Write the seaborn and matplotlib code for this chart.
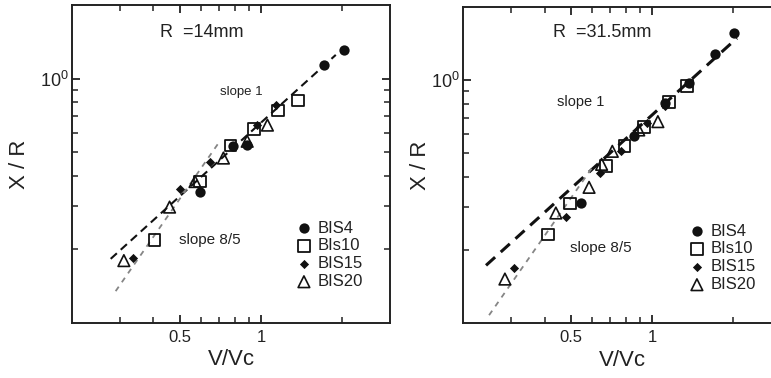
import matplotlib
matplotlib.use('Agg')
import matplotlib.pyplot as plt
import seaborn as sns
from matplotlib.ticker import NullFormatter

sns.set_style('ticks')
plt.rcParams['font.family'] = ['Liberation Sans', 'DejaVu Sans']
plt.rcParams['text.color'] = '#222222'

# R = 14mm panel
bis4_x_14 = [0.594, 0.789, 0.885, 1.712, 2.03]
bis4_y_14 = [0.342, 0.528, 0.533, 1.14, 1.315]
bis10_x_14 = [0.404, 0.594, 0.772, 0.942, 1.153, 1.373]
bis10_y_14 = [0.219, 0.379, 0.533, 0.622, 0.741, 0.814]
bis15_x_14 = [0.337, 0.500, 0.647, 0.970, 1.137]
bis15_y_14 = [0.184, 0.353, 0.454, 0.645, 0.779]
bis20_x_14 = [0.311, 0.459, 0.570, 0.726, 0.889, 1.056]
bis20_y_14 = [0.180, 0.298, 0.379, 0.473, 0.554, 0.645]
slope1_x_14 = [0.278, 1.89]
slope1_y_14 = [0.183, 1.25]
slope85_x_14 = [0.290, 0.699]
slope85_y_14 = [0.135, 0.548]

# R = 31.5mm panel
bis4_x_31 = [0.547, 0.855, 1.12, 1.367, 1.702, 2.013]
bis4_y_31 = [0.311, 0.588, 0.802, 0.972, 1.276, 1.556]
bis10_x_31 = [0.412, 0.497, 0.675, 0.790, 0.931, 1.152, 1.346]
bis10_y_31 = [0.232, 0.311, 0.443, 0.535, 0.642, 0.814, 0.945]
bis15_x_31 = [0.309, 0.481, 0.641, 0.768, 0.957, 1.12]
bis15_y_31 = [0.169, 0.274, 0.413, 0.510, 0.663, 0.778]
bis20_x_31 = [0.285, 0.440, 0.584, 0.650, 0.712, 0.892, 1.05]
bis20_y_31 = [0.152, 0.284, 0.362, 0.450, 0.509, 0.623, 0.674]
slope1_x_31 = [0.2426, 2.06]
slope1_y_31 = [0.173, 1.485]
slope85_x_31 = [0.249, 0.609]
slope85_y_31 = [0.108, 0.447]

series_names = ['BIS4', 'BIs10', 'BIS15', 'BIS20']
x_minor = [0.3, 0.4, 0.6, 0.7, 0.8, 0.9, 2]
y_minor = [0.2, 0.3, 0.4, 0.5, 0.6, 0.7, 0.8, 0.9]

ink = '#111111'


def draw_panel(ax, data, lines, title, black_lw, txt_pos, txt_sizes, leg_pos):
    s1x, s1y, s8x, s8y = lines
    sns.lineplot(x=s1x, y=s1y, ax=ax, color=ink, lw=black_lw, dashes=False)
    ax.lines[-1].set_dashes((4, 2.5))
    sns.lineplot(x=s8x, y=s8y, ax=ax, color='#858585', lw=1.3, dashes=False)
    ax.lines[-1].set_dashes((3, 3))

    styles = [
        dict(marker='o', s=55, color=ink, edgecolor=ink, linewidth=0),
        dict(marker='s', s=70, facecolor='none', edgecolor=ink, linewidth=1.3),
        dict(marker='D', s=22, color=ink, edgecolor=ink, linewidth=0),
        dict(marker='^', s=70, facecolor='none', edgecolor=ink, linewidth=1.2),
    ]
    for (xs, ys), name, st in zip(data, series_names, styles):
        sns.scatterplot(x=xs, y=ys, ax=ax, label=name, zorder=3, **st)

    ax.set_xscale('log')
    ax.set_yscale('log')
    ax.set_xlim(0.2, 3)
    ax.set_ylim(0.1, 2)
    ax.set_xticks([0.5, 1])
    ax.set_xticklabels(['0.5', '1'])
    ax.set_xticks(x_minor, minor=True)
    ax.xaxis.set_minor_formatter(NullFormatter())
    ax.set_yticks([1])
    ax.set_yticklabels([r'$\mathregular{10^0}$'])
    ax.set_yticks(y_minor, minor=True)
    ax.yaxis.set_minor_formatter(NullFormatter())
    ax.tick_params(which='both', direction='in', top=True, right=True,
                   bottom=True, left=True,
                   color='#222222', labelsize=12, labelcolor='#222222')
    ax.tick_params(which='major', length=6, width=1.3)
    ax.tick_params(which='minor', length=4, width=1.1)
    ax.tick_params(axis='x', pad=5)
    ax.tick_params(axis='y', pad=2.5, labelsize=13)
    for sp in ax.spines.values():
        sp.set_linewidth(1.4)
        sp.set_color('#222222')

    ax.set_xlabel('V/Vc', fontsize=16, color='#222222')
    ax.set_ylabel('X / R', fontsize=16, color='#222222')

    ax.text(txt_pos[0][0], txt_pos[0][1], title, transform=ax.transAxes,
            fontsize=13, ha='left', va='center')
    ax.text(txt_pos[1][0], txt_pos[1][1], 'slope 1', transform=ax.transAxes,
            fontsize=txt_sizes[0], ha='left', va='center')
    ax.text(txt_pos[2][0], txt_pos[2][1], 'slope 8/5', transform=ax.transAxes,
            fontsize=txt_sizes[1], ha='left', va='center')

    ax.legend(loc='upper left', bbox_to_anchor=leg_pos, frameon=False,
              fontsize=12, handlelength=1.0, handletextpad=0.34,
              labelspacing=0.17, borderpad=0, borderaxespad=0, scatterpoints=1)


fig = plt.figure(figsize=(7.71, 3.78), dpi=100)
ax1 = fig.add_axes([0.0934, 0.1455, 0.4125, 0.8413])
ax2 = fig.add_axes([0.601, 0.1447, 0.412, 0.8376])

draw_panel(ax1,
           [(bis4_x_14, bis4_y_14), (bis10_x_14, bis10_y_14),
            (bis15_x_14, bis15_y_14), (bis20_x_14, bis20_y_14)],
           (slope1_x_14, slope1_y_14, slope85_x_14, slope85_y_14),
           'R  =14mm', 1.5,
           [(0.277, 0.915), (0.465, 0.726), (0.336, 0.261)],
           (9.5, 11),
           (0.703, 0.322))
ax1.yaxis.set_label_coords(-0.164, 0.5)
ax1.yaxis.label.set_va('center')
ax1.xaxis.set_label_coords(0.5, -0.116)
ax1.xaxis.label.set_va('center')

draw_panel(ax2,
           [(bis4_x_31, bis4_y_31), (bis10_x_31, bis10_y_31),
            (bis15_x_31, bis15_y_31), (bis20_x_31, bis20_y_31)],
           (slope1_x_31, slope1_y_31, slope85_x_31, slope85_y_31),
           'R  =31.5mm', 2.2,
           [(0.282, 0.917), (0.295, 0.699), (0.336, 0.238)],
           (10.5, 11),
           (0.709, 0.315))
ax2.yaxis.set_label_coords(-0.136, 0.5)
ax2.yaxis.label.set_va('center')
ax2.xaxis.set_label_coords(0.5, -0.116)
ax2.xaxis.label.set_va('center')

fig.savefig('out.png', dpi=100)
